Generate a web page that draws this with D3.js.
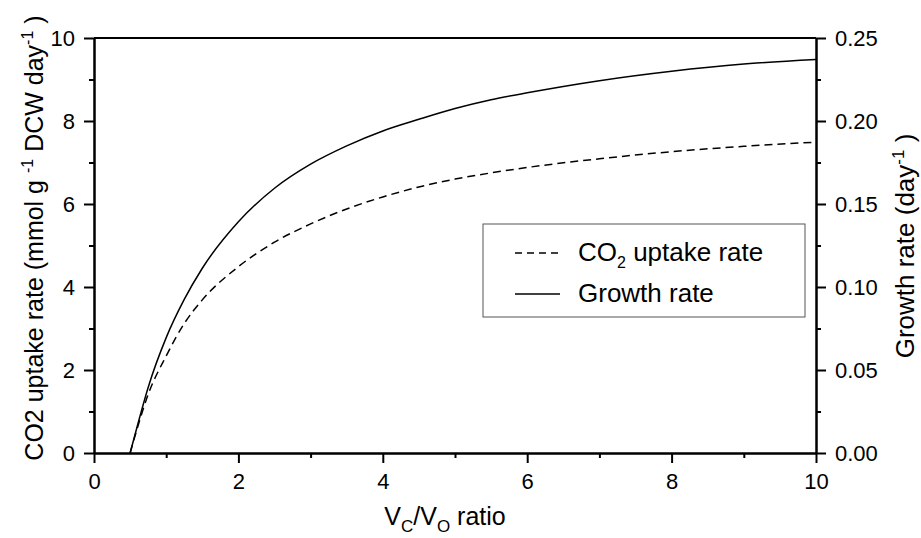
<!DOCTYPE html>
<html>
<head>
<meta charset="utf-8">
<script src="https://cdn.jsdelivr.net/npm/d3@7"></script>
<style>
  html, body { margin: 0; padding: 0; background: #fff; }
  svg { display: block; }
  text { font-family: "Liberation Sans", Arial, Helvetica, sans-serif; fill: #000; }
</style>
</head>
<body>
<svg id="chart" width="921" height="538"></svg>
<script>
// Vc/Vo ratio sample points
const ratio = [0.5, 0.6, 0.75, 1.0, 1.25, 1.5, 2.0, 2.5, 3.0, 3.5, 4.0, 4.5, 5.0, 5.5, 6.0, 7.0, 8.0, 9.0, 10.0];
// CO2 uptake rate (mmol g^-1 DCW day^-1), left axis
const co2Uptake = [0, 0.6, 1.41, 2.34, 3.12, 3.69, 4.49, 5.08, 5.52, 5.88, 6.17, 6.41, 6.60, 6.75, 6.88, 7.09, 7.26, 7.39, 7.49];
// Growth rate (day^-1), right axis
const growthRate = [0, 0.0163, 0.0395, 0.0695, 0.0925, 0.1113, 0.1393, 0.1595, 0.174, 0.185, 0.194, 0.201, 0.2075, 0.2128, 0.217, 0.2243, 0.230, 0.2343, 0.237];

const xTicks = [0, 2, 4, 6, 8, 10];
const xMinor = [1, 3, 5, 7, 9];
const yLeftTicks = [0, 2, 4, 6, 8, 10];
const yLeftMinor = [1, 3, 5, 7, 9];
const yRightTicks = [0, 0.05, 0.10, 0.15, 0.20, 0.25];
const yRightMinor = [0.025, 0.075, 0.125, 0.175, 0.225];

const plot = { left: 94, right: 816, top: 38, bottom: 453 };
const svg = d3.select("#chart");

const x = d3.scaleLinear().domain([0, 10]).range([plot.left, plot.right]);
const yL = d3.scaleLinear().domain([0, 10]).range([plot.bottom, plot.top]);
const yR = d3.scaleLinear().domain([0, 0.25]).range([plot.bottom, plot.top]);

const tickFont = "22px";
const major = 10, minor = 5;

function styleAxis(g) {
  g.attr("font-family", null).attr("font-size", null);
  g.selectAll("path.domain").attr("stroke", "#000").attr("stroke-width", 2);
  g.selectAll(".tick line").attr("stroke", "#000").attr("stroke-width", 2);
  g.selectAll("text").style("font-size", tickFont).attr("fill", "#000");
}

// Top frame line
svg.append("line")
  .attr("x1", plot.left).attr("x2", plot.right).attr("y1", plot.top).attr("y2", plot.top)
  .attr("stroke", "#000").attr("stroke-width", 2);

// Bottom axis
svg.append("g").attr("transform", `translate(0,${plot.bottom})`)
  .call(d3.axisBottom(x).tickValues(xMinor).tickSize(minor).tickSizeOuter(0).tickFormat(""))
  .call(styleAxis);
svg.append("g").attr("transform", `translate(0,${plot.bottom})`)
  .call(d3.axisBottom(x).tickValues(xTicks).tickSize(major).tickSizeOuter(0).tickPadding(10).tickFormat(d3.format("d")))
  .call(styleAxis);

// Left axis
svg.append("g").attr("transform", `translate(${plot.left},0)`)
  .call(d3.axisLeft(yL).tickValues(yLeftMinor).tickSize(minor).tickSizeOuter(0).tickFormat(""))
  .call(styleAxis);
svg.append("g").attr("transform", `translate(${plot.left},0)`)
  .call(d3.axisLeft(yL).tickValues(yLeftTicks).tickSize(major).tickSizeOuter(0).tickPadding(9).tickFormat(d3.format("d")))
  .call(styleAxis);

// Right axis
svg.append("g").attr("transform", `translate(${plot.right},0)`)
  .call(d3.axisRight(yR).tickValues(yRightMinor).tickSize(minor).tickSizeOuter(0).tickFormat(""))
  .call(styleAxis);
svg.append("g").attr("transform", `translate(${plot.right},0)`)
  .call(d3.axisRight(yR).tickValues(yRightTicks).tickSize(major).tickSizeOuter(0).tickPadding(9).tickFormat(d3.format(".2f")))
  .call(styleAxis);

// Curves
const co2Line = d3.line().x((d, i) => x(ratio[i])).y(d => yL(d)).curve(d3.curveMonotoneX);
const growthLine = d3.line().x((d, i) => x(ratio[i])).y(d => yR(d)).curve(d3.curveMonotoneX);

svg.append("path").datum(co2Uptake)
  .attr("d", co2Line).attr("fill", "none").attr("stroke", "#000")
  .attr("stroke-width", 1.5).attr("stroke-dasharray", "8,5");
svg.append("path").datum(growthRate)
  .attr("d", growthLine).attr("fill", "none").attr("stroke", "#000")
  .attr("stroke-width", 1.5);

// Legend
const lg = svg.append("g");
lg.append("rect").attr("x", 483).attr("y", 224).attr("width", 322).attr("height", 93)
  .attr("fill", "#fff").attr("stroke", "#555").attr("stroke-width", 1);
lg.append("line").attr("x1", 515).attr("x2", 560).attr("y1", 253).attr("y2", 253)
  .attr("stroke", "#000").attr("stroke-width", 1.5).attr("stroke-dasharray", "7,5");
lg.append("line").attr("x1", 515).attr("x2", 560).attr("y1", 294).attr("y2", 294)
  .attr("stroke", "#000").attr("stroke-width", 1.5);
const t1 = lg.append("text").attr("x", 578).attr("y", 261).style("font-size", "26px");
t1.append("tspan").text("CO");
t1.append("tspan").attr("dy", 7).style("font-size", "16px").text("2");
t1.append("tspan").attr("dy", -7).text(" uptake rate");
lg.append("text").attr("x", 578).attr("y", 302).style("font-size", "26px").text("Growth rate");

// Axis titles
const xt = svg.append("text").attr("x", 445).attr("y", 525)
  .attr("text-anchor", "middle").style("font-size", "25px");
xt.append("tspan").text("V");
xt.append("tspan").attr("dy", 7).style("font-size", "17px").text("C");
xt.append("tspan").attr("dy", -7).text("/V");
xt.append("tspan").attr("dy", 7).style("font-size", "17px").text("O");
xt.append("tspan").attr("dy", -7).text(" ratio");

const ylt = svg.append("text").attr("transform", "translate(43,238) rotate(-90)")
  .attr("text-anchor", "middle").style("font-size", "25px");
ylt.append("tspan").text("CO2 uptake rate (mmol g ");
ylt.append("tspan").attr("dy", -10).style("font-size", "16px").text("-1");
ylt.append("tspan").attr("dy", 10).text(" DCW day");
ylt.append("tspan").attr("dy", -10).style("font-size", "16px").text("-1");
ylt.append("tspan").attr("dy", 10).text(" )");

const yrt = svg.append("text").attr("transform", "translate(914,246) rotate(-90)")
  .attr("text-anchor", "middle").style("font-size", "26px");
yrt.append("tspan").text("Growth rate (day");
yrt.append("tspan").attr("dy", -10).style("font-size", "17px").text("-1");
yrt.append("tspan").attr("dy", 10).text(" )");
</script>
</body>
</html>
